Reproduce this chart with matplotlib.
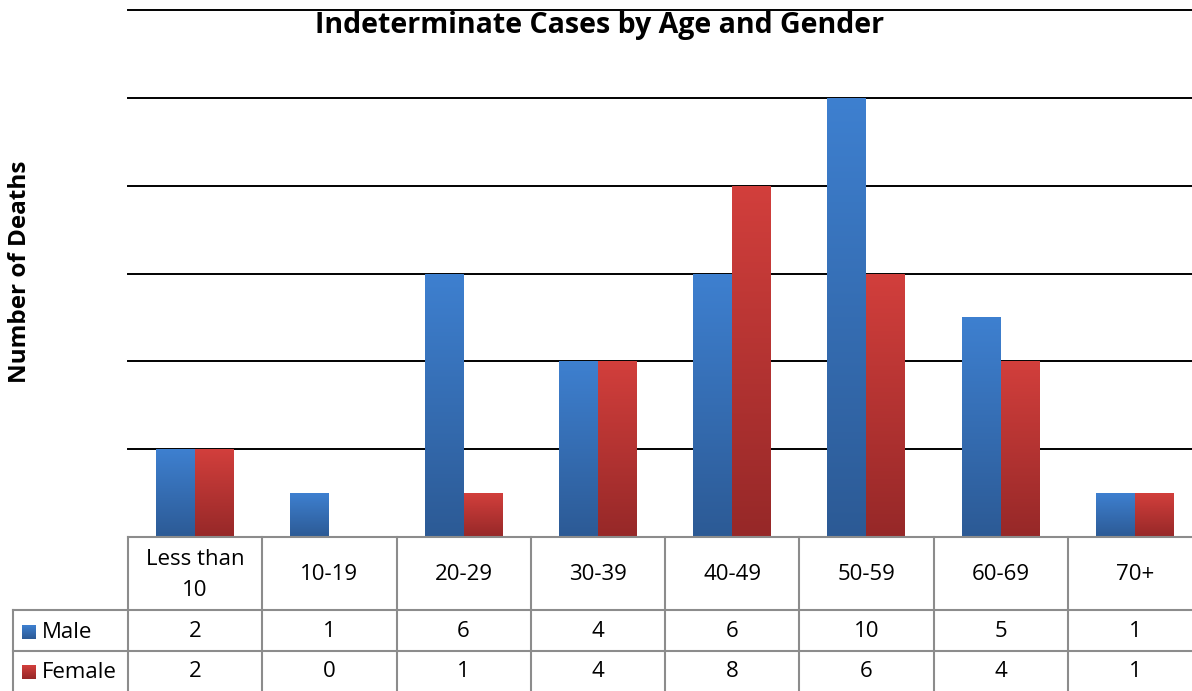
import matplotlib
import numpy as np

matplotlib.use("Agg")

from matplotlib import pyplot as plt  # noqa: E402
from matplotlib import transforms  # noqa: E402
from matplotlib.colors import LinearSegmentedColormap  # noqa: E402

TITLE = "Indeterminate Cases by Age and Gender"
Y_LABEL = "Number of Deaths"
AGE_GROUPS = ["Less than\n10", "10-19", "20-29", "30-39", "40-49", "50-59", "60-69", "70+"]
SERIES_NAMES = ["Male", "Female"]
MALE = [2, 1, 6, 4, 6, 10, 5, 1]
FEMALE = [2, 0, 1, 4, 8, 6, 4, 1]

W, H = 1192, 691
FONT = "Open Sans"
GRID_COLOR = "#8c8c8c"
GRADIENTS = {
    "Male": ("#3e80d0", "#2c5a95"),
    "Female": ("#d23f3c", "#962828"),
}
BAR_WIDTH = 0.29
TABLE_FONTSIZE = 16

fig = plt.figure(figsize=(W / 100, H / 100), dpi=100)
# plot area runs a bit past the right edge, as in the original
ax = fig.add_axes([128 / W, (H - 537) / H, (1202 - 128) / W, (537 - 10) / H])
ax.set_xlim(-0.5, len(AGE_GROUPS) - 0.5)
ax.set_ylim(0, 12)
for spine in ax.spines.values():
    spine.set_visible(False)
ax.set_xticks([])
ax.set_yticks([])

for y in range(2, 13, 2):
    ax.axhline(y, color="black", linewidth=1.4, zorder=1, clip_on=False)


def gradient_bar(x, height, name):
    if height <= 0:
        return
    top, bottom = GRADIENTS[name]
    cmap = LinearSegmentedColormap.from_list(name, [bottom, top])
    bar = ax.bar(x, height, width=BAR_WIDTH, align="edge", color="none",
                 linewidth=0, zorder=3)[0]
    grad = np.linspace(0, 1, 256).reshape(-1, 1)
    img = ax.imshow(grad, cmap=cmap, aspect="auto", origin="lower",
                    extent=(x, x + BAR_WIDTH, 0, height), zorder=2)
    img.set_clip_path(bar)


x = np.arange(len(AGE_GROUPS))
for i in range(len(AGE_GROUPS)):
    gradient_bar(x[i] - BAR_WIDTH, MALE[i], "Male")
    gradient_bar(x[i], FEMALE[i], "Female")
ax.set_xlim(-0.5, len(AGE_GROUPS) - 0.5)
ax.set_ylim(0, 12)

fig.text(600 / W, 1 - 26 / H, TITLE, ha="center", va="center",
         fontsize=20.5, fontweight="bold", family=FONT)
fig.text(20 / W, 1 - 272 / H, Y_LABEL, ha="center", va="center",
         rotation=90, fontsize=17.5, fontweight="bold", family=FONT)

# data table below the plot: x in data units, y in figure pixels from top
pix = transforms.Affine2D().scale(1 / W, -1 / H).translate(0, 1) + fig.transFigure
trans = transforms.blended_transform_factory(ax.transData, pix)
left_col = -0.5 - 115 / 134.3
right_end = len(AGE_GROUPS) - 0.5
line_kw = dict(color=GRID_COLOR, linewidth=1.5, transform=trans, clip_on=False)

ax.plot([-0.5, right_end], [537, 537], **line_kw)
ax.plot([left_col, right_end], [610, 610], **line_kw)
ax.plot([left_col, right_end], [651, 651], **line_kw)
ax.plot([left_col, left_col], [610, 691], **line_kw)
for b in np.arange(-0.5, right_end + 0.01, 1):
    ax.plot([b, b], [537, 691], **line_kw)

text_kw = dict(ha="center", va="center", fontsize=TABLE_FONTSIZE, family=FONT,
               transform=trans, clip_on=False)
for i, label in enumerate(AGE_GROUPS):
    ax.text(x[i], 575, label, linespacing=1.6, **text_kw)
    ax.text(x[i], 632, str(MALE[i]), **text_kw)
    ax.text(x[i], 672, str(FEMALE[i]), **text_kw)

for name, yc in zip(SERIES_NAMES, [632, 672]):
    top, bottom = GRADIENTS[name]
    cmap = LinearSegmentedColormap.from_list(name + "_key", [bottom, top])
    key_ax = fig.add_axes([22 / W, 1 - (yc + 7) / H, 14 / W, 14 / H])
    key_ax.imshow(np.linspace(0, 1, 64).reshape(-1, 1), cmap=cmap,
                  aspect="auto", origin="lower")
    key_ax.axis("off")
    fig.text(42 / W, 1 - yc / H, name, ha="left", va="center",
             fontsize=TABLE_FONTSIZE, family=FONT)

fig.savefig("out.png", dpi=100)
